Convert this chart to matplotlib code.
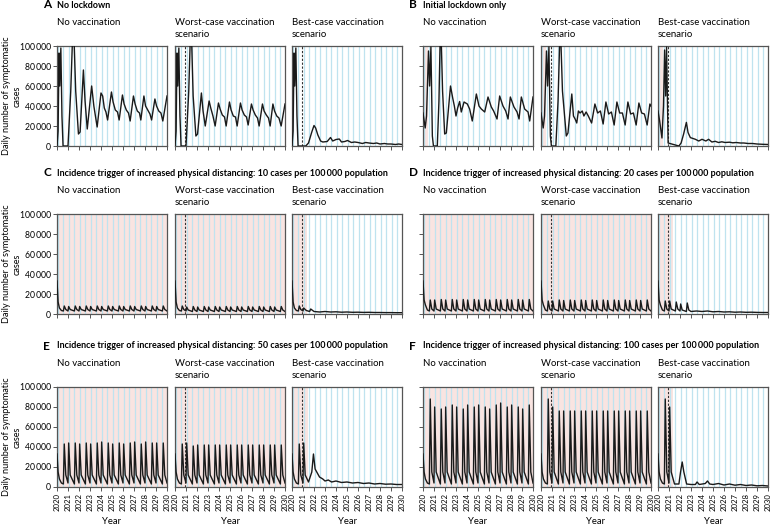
import matplotlib.pyplot as plt

plt.rcParams['font.family'] = ['Lato', 'DejaVu Sans']

# ---------------- data ----------------
years = list(range(2020, 2031))
y_ticks = [0, 20000, 40000, 60000, 80000, 100000]
y_tick_labels = ['0', '20\u2009000', '40\u2009000', '60\u2009000', '80\u2009000', '100\u2009000']
holiday_lines = [2020.05, 2020.58, 2021.05, 2021.58, 2022.05, 2022.58, 2023.05, 2023.58, 2024.05, 2024.58,
                 2025.05, 2025.58, 2026.05, 2026.58, 2027.05, 2027.58, 2028.05, 2028.58, 2029.05, 2029.58]
vaccine_start = 2020.92

# A: no lockdown
a_none_t = [2020.0, 2020.1, 2020.18, 2020.25, 2020.35, 2020.45, 2020.55, 2021.0, 2021.25, 2021.48, 2021.7,
            2021.95, 2022.1, 2022.4, 2022.55, 2022.75, 2023.15, 2023.35, 2023.65, 2024.0, 2024.15, 2024.3,
            2024.45, 2024.6, 2024.95, 2025.1, 2025.3, 2025.5, 2025.65, 2025.95, 2026.1, 2026.3, 2026.5,
            2026.65, 2026.95, 2027.1, 2027.3, 2027.5, 2027.62, 2027.9, 2028.05, 2028.25, 2028.45, 2028.6,
            2028.9, 2029.05, 2029.25, 2029.45, 2029.62, 2030.0]
a_none_v = [0, 15000, 93000, 60000, 98000, 30000, 0, 0, 55000, 130000, 55000, 12000, 14000, 76000, 45000,
            17000, 60000, 40000, 19000, 53000, 50000, 38000, 34000, 26000, 54000, 44000, 36000, 34000, 26000,
            51000, 42000, 36000, 33000, 25000, 50000, 42000, 35000, 33000, 26000, 50000, 40000, 36000, 32000,
            26000, 47000, 40000, 35000, 33000, 25000, 50000]
a_worst_t = [2020.0, 2020.1, 2020.18, 2020.25, 2020.35, 2020.45, 2020.55, 2021.0, 2021.25, 2021.45, 2021.65,
             2021.9, 2022.05, 2022.4, 2022.55, 2022.75, 2023.1, 2023.25, 2023.45, 2023.65, 2023.95, 2024.1,
             2024.3, 2024.5, 2024.65, 2024.95, 2025.1, 2025.3, 2025.5, 2025.65, 2025.95, 2026.1, 2026.3,
             2026.5, 2026.65, 2026.95, 2027.1, 2027.3, 2027.5, 2027.65, 2027.95, 2028.1, 2028.3, 2028.5,
             2028.65, 2028.9, 2029.05, 2029.25, 2029.45, 2029.65, 2030.0]
a_worst_v = [0, 15000, 93000, 60000, 98000, 30000, 0, 0, 55000, 130000, 50000, 10000, 12000, 53000, 35000,
             20000, 45000, 38000, 30000, 20000, 43000, 37000, 31000, 29000, 20000, 44000, 36000, 30000, 29000,
             20000, 43000, 36000, 31000, 29000, 21000, 42000, 36000, 31000, 28000, 20000, 42000, 35000, 31000,
             28000, 20000, 42000, 35000, 30000, 28000, 20000, 42000]
a_best_t = [2020.0, 2020.1, 2020.18, 2020.25, 2020.35, 2020.45, 2020.55, 2021.25, 2021.5, 2021.8, 2022.0,
            2022.15, 2022.35, 2022.6, 2022.8, 2023.2, 2023.5, 2023.7, 2024.0, 2024.3, 2024.5, 2024.8, 2025.05,
            2025.4, 2025.7, 2026.0, 2026.4, 2026.7, 2027.0, 2027.4, 2027.7, 2028.0, 2028.4, 2028.7, 2029.0,
            2029.4, 2029.7, 2030.0]
a_best_v = [0, 15000, 93000, 60000, 98000, 30000, 0, 0, 3000, 14000, 20500, 18000, 11000, 5000, 4000, 4500,
            8500, 5000, 6500, 7000, 4000, 4500, 5500, 3500, 4000, 3500, 2500, 3500, 3000, 2500, 3000, 2000,
            2500, 2000, 2000, 1500, 2000, 1500]

# B: initial lockdown only
b_none_t = [2020.0, 2020.2, 2020.32, 2020.5, 2020.6, 2020.72, 2020.85, 2020.95, 2021.3, 2021.45, 2021.6,
            2021.78, 2021.97, 2022.12, 2022.5, 2022.7, 2022.85, 2023.0, 2023.15, 2023.33, 2023.48, 2023.73,
            2024.03, 2024.24, 2024.48, 2024.85, 2025.09, 2025.3, 2025.61, 2025.91, 2026.21, 2026.42, 2026.73,
            2026.97, 2027.27, 2027.52, 2027.73, 2027.94, 2028.27, 2028.55, 2028.73, 2028.94, 2029.24, 2029.55,
            2029.7, 2030.0]
b_none_v = [33000, 18000, 30000, 95000, 60000, 99000, 10000, 0, 0, 45000, 130000, 55000, 12000, 13000, 60000,
            48000, 40000, 30000, 38000, 44500, 34000, 44000, 42000, 37000, 25000, 52000, 40000, 37000, 34000,
            49000, 39000, 35000, 27000, 50000, 40000, 35000, 27000, 49000, 39000, 34000, 27000, 49000, 37000,
            34000, 25000, 49000]
b_worst_t = [2020.0, 2020.2, 2020.32, 2020.5, 2020.6, 2020.72, 2020.85, 2020.95, 2021.35, 2021.55, 2021.75,
             2021.95, 2022.3, 2022.45, 2022.8, 2022.95, 2023.1, 2023.25, 2023.4, 2023.55, 2023.75, 2023.9,
             2024.1, 2024.3, 2024.6, 2024.9, 2025.15, 2025.4, 2025.65, 2025.9, 2026.15, 2026.4, 2026.65,
             2026.9, 2027.15, 2027.4, 2027.65, 2027.9, 2028.15, 2028.4, 2028.65, 2028.9, 2029.15, 2029.4,
             2029.65, 2029.9, 2030.0]
b_worst_v = [33000, 18000, 30000, 95000, 60000, 99000, 10000, 0, 0, 45000, 125000, 55000, 10000, 13000, 52000,
             30000, 27000, 23000, 35000, 33000, 35000, 30000, 34000, 30000, 23000, 42000, 33000, 35000, 22000,
             44000, 32000, 34000, 21000, 44000, 33000, 33000, 21000, 44000, 32000, 33000, 21000, 43000, 33000,
             32000, 21000, 42000, 40000]
b_best_t = [2020.0, 2020.15, 2020.36, 2020.5, 2020.6, 2020.7, 2020.78, 2020.92, 2021.9, 2022.1, 2022.33,
            2022.58, 2022.73, 2022.94, 2023.4, 2023.7, 2024.0, 2024.35, 2024.6, 2024.9, 2025.2, 2025.5, 2025.8,
            2026.1, 2026.5, 2026.8, 2027.1, 2027.5, 2027.8, 2028.2, 2028.6, 2029.0, 2029.5, 2030.0]
b_best_v = [35000, 25000, 8000, 40000, 96000, 50000, 99000, 3000, 0, 3000, 12000, 23600, 13500, 8400, 6700,
            5000, 6700, 5000, 6700, 4000, 4700, 3500, 4200, 3500, 3800, 3200, 3500, 3000, 3000, 2500, 2500,
            2000, 1700, 1500]

# C/D/E/F share the timing of the distancing cycles (no vaccination & worst case)
cyc_t = [2020.0, 2020.1, 2020.22, 2020.4, 2020.58, 2020.66, 2020.8, 2021.0, 2021.06, 2021.2, 2021.58,
         2021.66, 2021.8, 2022.0, 2022.06, 2022.2, 2022.58, 2022.66, 2022.8, 2023.0, 2023.06, 2023.2,
         2023.58, 2023.66, 2023.8, 2024.0, 2024.06, 2024.2, 2024.58, 2024.66, 2024.8, 2025.0, 2025.06,
         2025.2, 2025.58, 2025.66, 2025.8, 2026.0, 2026.06, 2026.2, 2026.58, 2026.66, 2026.8, 2027.0,
         2027.06, 2027.2, 2027.58, 2027.66, 2027.8, 2028.0, 2028.06, 2028.2, 2028.58, 2028.66, 2028.8,
         2029.0, 2029.06, 2029.2, 2029.58, 2029.66, 2029.8, 2030.0]
c_none_v = [33000, 12000, 6000, 3500, 3000, 8000, 4500, 3000, 7500, 4500, 3000, 8000, 4500, 3000, 7500, 4500,
            3000, 8000, 4500, 3000, 7500, 4500, 3000, 8000, 4500, 3000, 7500, 4500, 3000, 8000, 4500, 3000,
            7500, 4500, 3000, 8000, 4500, 3000, 7500, 4500, 3000, 8000, 4500, 3000, 7500, 4500, 3000, 8000,
            4500, 3000, 7500, 4500, 3000, 8000, 4500, 3000, 7500, 4500, 3000, 8000, 4500, 3000]
c_worst_v = [33000, 12000, 6000, 3500, 3000, 8000, 4500, 3000, 7000, 4000, 2500, 7500, 4000, 2500, 7000, 4000,
             2500, 7500, 4000, 2500, 7000, 4000, 2500, 7500, 4000, 2500, 7000, 4000, 2500, 7500, 4000, 2500,
             7000, 4000, 2500, 7500, 4000, 2500, 7000, 4000, 2500, 7500, 4000, 2500, 7000, 4000, 2500, 7500,
             4000, 2500, 7000, 4000, 2500, 7500, 4000, 2500, 7000, 4000, 2500, 7500, 4000, 2500]
d_none_v = [33000, 14000, 9000, 4000, 3000, 14000, 5000, 3000, 14000, 5000, 3000, 14500, 5000, 3000, 14000,
            5000, 3000, 14500, 5000, 3000, 14000, 5000, 3000, 14500, 5000, 3000, 14000, 5000, 3000, 14500, 5000,
            3000, 14000, 5000, 3000, 14500, 5000, 3000, 14000, 5000, 3000, 14500, 5000, 3000, 14000, 5000, 3000,
            14500, 5000, 3000, 14000, 5000, 3000, 14500, 5000, 3000, 14000, 5000, 3000, 14500, 5000, 3000]
d_worst_v = [33000, 14000, 9000, 4000, 3000, 13000, 5000, 3000, 13000, 5000, 3000, 14000, 5000, 3000, 13500,
             5000, 3000, 14000, 5000, 3000, 13500, 5000, 3000, 14000, 5000, 3000, 13500, 5000, 3000, 14000, 5000,
             3000, 13500, 5000, 3000, 14000, 5000, 3000, 13500, 5000, 3000, 14000, 5000, 3000, 13500, 5000, 3000,
             14000, 5000, 3000, 13500, 5000, 3000, 14000, 5000, 3000, 13500, 5000, 3000, 14000, 5000, 3000]
e_none_v = [33000, 15000, 8000, 4000, 3000, 43000, 12000, 4000, 44000, 12000, 3000, 44000, 12000, 4000, 43000,
            12000, 3000, 44000, 12000, 4000, 43000, 12000, 3000, 44000, 12000, 4000, 45000, 12000, 3000, 44000,
            12000, 4000, 43000, 12000, 3000, 44000, 12000, 4000, 43000, 12000, 3000, 44000, 12000, 4000, 45000,
            12000, 3000, 43000, 12000, 4000, 45000, 12000, 3000, 44000, 12000, 4000, 44000, 12000, 3000, 44000,
            12000, 4000]
e_worst_v = [33000, 15000, 8000, 4000, 3000, 43000, 12000, 4000, 44000, 12000, 3000, 41000, 12000, 4000, 42000,
             12000, 3000, 42000, 12000, 4000, 42000, 12000, 3000, 42000, 12000, 4000, 42000, 12000, 3000, 42000,
             12000, 4000, 42000, 12000, 3000, 42000, 12000, 4000, 42000, 12000, 3000, 42000, 12000, 4000, 42000,
             12000, 3000, 42000, 12000, 4000, 42000, 12000, 3000, 42000, 12000, 4000, 42000, 12000, 3000, 42000,
             12000, 4000]
f_none_v = [33000, 15000, 8000, 4000, 3000, 88000, 15000, 4000, 80000, 15000, 3000, 78000, 15000, 4000, 80000,
            15000, 3000, 82000, 15000, 4000, 80000, 15000, 3000, 78000, 15000, 4000, 82000, 15000, 3000, 80000,
            15000, 4000, 82000, 15000, 3000, 80000, 15000, 4000, 78000, 15000, 3000, 82000, 15000, 4000, 84000,
            15000, 3000, 80000, 15000, 4000, 82000, 15000, 3000, 80000, 15000, 4000, 78000, 15000, 3000, 82000,
            15000, 4000]
f_worst_v = [33000, 15000, 8000, 4000, 3000, 88000, 15000, 4000, 80000, 15000, 3000, 76000, 15000, 4000, 76000,
             15000, 3000, 76000, 15000, 4000, 76000, 15000, 3000, 76000, 15000, 4000, 76000, 15000, 3000, 76000,
             15000, 4000, 76000, 15000, 3000, 76000, 15000, 4000, 76000, 15000, 3000, 76000, 15000, 4000, 76000,
             15000, 3000, 76000, 15000, 4000, 76000, 15000, 3000, 76000, 15000, 4000, 76000, 15000, 3000, 76000,
             15000, 4000]

c_best_t = [2020.0, 2020.1, 2020.22, 2020.4, 2020.58, 2020.66, 2020.8, 2021.0, 2021.06, 2021.3, 2021.6, 2021.7,
            2022.0, 2022.5, 2023.0, 2023.5, 2024.0, 2024.5, 2025.0, 2025.5, 2026.0, 2026.5, 2027.0, 2027.5,
            2028.0, 2028.5, 2029.0, 2029.5, 2030.0]
c_best_v = [33000, 12000, 6000, 3500, 3000, 8000, 4500, 3000, 6000, 3500, 2500, 5000, 2500, 2000, 2500, 2000,
            2200, 1800, 2000, 1700, 1800, 1600, 1700, 1500, 1500, 1400, 1400, 1300, 1300]
d_best_t = [2020.0, 2020.1, 2020.22, 2020.4, 2020.58, 2020.66, 2020.8, 2021.0, 2021.06, 2021.2, 2021.58,
            2021.66, 2021.8, 2022.0, 2022.06, 2022.2, 2022.58, 2022.66, 2022.8, 2023.0, 2023.5, 2024.0, 2024.5,
            2025.0, 2025.5, 2026.0, 2026.5, 2027.0, 2027.5, 2028.0, 2028.5, 2029.0, 2029.5, 2030.0]
d_best_v = [33000, 14000, 9000, 4000, 3000, 13000, 5000, 3000, 13000, 5000, 3000, 12000, 5000, 3000, 10000, 4000,
            2500, 11000, 4000, 2500, 3000, 2500, 3000, 2200, 2500, 2000, 2200, 1800, 2000, 1700, 1800, 1600,
            1500, 1500]
e_best_t = [2020.0, 2020.1, 2020.22, 2020.4, 2020.58, 2020.66, 2020.8, 2021.0, 2021.06, 2021.2, 2021.5,
            2021.8, 2021.95, 2022.1, 2022.3, 2022.5, 2022.8, 2023.0, 2023.3, 2023.6, 2024.0, 2024.5, 2025.0,
            2025.5, 2026.0, 2026.5, 2027.0, 2027.5, 2028.0, 2028.5, 2029.0, 2029.5, 2030.0]
e_best_v = [33000, 15000, 8000, 4000, 3000, 43000, 12000, 4000, 44000, 12000, 5000, 15000, 33000, 18000, 14000,
            10000, 8000, 6000, 7000, 5000, 6000, 4500, 5000, 4000, 4500, 3500, 4000, 3000, 3500, 2800, 3000,
            2500, 2500]
f_best_t = [2020.0, 2020.1, 2020.22, 2020.4, 2020.58, 2020.66, 2020.8, 2021.0, 2021.06, 2021.2, 2021.5,
            2021.9, 2022.05, 2022.2, 2022.35, 2022.6, 2023.0, 2023.4, 2023.55, 2023.75, 2024.3, 2024.5, 2024.7,
            2025.0, 2025.5, 2026.0, 2026.5, 2027.0, 2027.5, 2028.0, 2028.5, 2029.0, 2029.5, 2030.0]
f_best_v = [33000, 15000, 8000, 4000, 3000, 88000, 15000, 4000, 80000, 15000, 3000, 3000, 15000, 25000, 15000,
            3000, 2500, 2500, 5000, 2500, 3500, 6000, 3000, 2500, 3500, 2000, 3000, 1800, 2500, 1500, 2000,
            1200, 1500, 1000]

# distancing (pink) periods per subplot: (start, end)
pink_spans = {
    'A': [[], [], []],
    'B': [[(2020.0, 2020.45)], [(2020.0, 2020.45)], [(2020.0, 2020.45)]],
    'C': [[(2020.0, 2030.0)], [(2020.0, 2030.0)], [(2020.0, 2021.4)]],
    'D': [[(2020.0, 2030.0)], [(2020.0, 2030.0)], [(2020.0, 2021.4)]],
    'E': [[(2020.0, 2030.0)], [(2020.0, 2030.0)], [(2020.0, 2021.45)]],
    'F': [[(2020.0, 2030.0)], [(2020.0, 2030.0)], [(2020.0, 2021.35)]],
}

panels = [
    ('A', 'No lockdown', 57, 46,
     [(a_none_t, a_none_v), (a_worst_t, a_worst_v), (a_best_t, a_best_v)]),
    ('B', 'Initial lockdown only', 423, 46,
     [(b_none_t, b_none_v), (b_worst_t, b_worst_v), (b_best_t, b_best_v)]),
    ('C', 'Incidence trigger of increased physical distancing: 10 cases per 100\u2009000 population', 57, 214,
     [(cyc_t, c_none_v), (cyc_t, c_worst_v), (c_best_t, c_best_v)]),
    ('D', 'Incidence trigger of increased physical distancing: 20 cases per 100\u2009000 population', 423, 214,
     [(cyc_t, d_none_v), (cyc_t, d_worst_v), (d_best_t, d_best_v)]),
    ('E', 'Incidence trigger of increased physical distancing: 50 cases per 100\u2009000 population', 57, 387,
     [(cyc_t, e_none_v), (cyc_t, e_worst_v), (e_best_t, e_best_v)]),
    ('F', 'Incidence trigger of increased physical distancing: 100 cases per 100\u2009000 population', 423, 387,
     [(cyc_t, f_none_v), (cyc_t, f_worst_v), (f_best_t, f_best_v)]),
]
scenarios = ['No vaccination', 'Worst-case vaccination\nscenario', 'Best-case vaccination\nscenario']

# ---------------- figure ----------------
W, H = 773, 526
fig = plt.figure(figsize=(W / 100, H / 100), dpi=100)
pink = '#f9e4e1'
blue = '#bfe3ef'
spine_col = '#555555'
AX_W, AX_H, GAP = 110, 100, 118

for letter, title, x0, y0, series in panels:
    fig.text((x0 - 14) / W, 1 - (y0 - 41) / H, letter, fontsize=8.5, fontweight='bold', va='center', ha='left')
    fig.text(x0 / W, 1 - (y0 - 41) / H, title, fontsize=6.45, fontweight='bold', va='center', ha='left')
    if x0 == 57:
        fig.text(12 / W, 1 - (y0 + AX_H / 2) / H, 'Daily number of symptomatic\ncases', fontsize=6.6,
                 rotation=90, ha='center', va='center', multialignment='center', linespacing=1.2)
    for i, (t, v) in enumerate(series):
        left = x0 + i * GAP - (1 if i == 2 else 0)
        ax = fig.add_axes([left / W, 1 - (y0 + AX_H) / H, AX_W / W, AX_H / H])
        for s, e in pink_spans[letter][i]:
            ax.axvspan(s, e, color=pink, lw=0, zorder=0)
        for h in holiday_lines:
            ax.axvline(h, color=blue, lw=0.9, zorder=1)
        if i > 0:
            ax.axvline(vaccine_start, color='#333333', lw=0.8, ls=(0, (2, 1.5)), zorder=2)
        ax.plot(t, v, color='#1a1a1a', lw=1.0, zorder=3)
        ax.set_xlim(2020, 2030)
        ax.set_ylim(0, 100000)
        for sp in ax.spines.values():
            sp.set_color(spine_col)
            sp.set_linewidth(0.9)
        ax.set_xticks(years)
        ax.tick_params(axis='both', length=3, width=0.7, color=spine_col, labelsize=6, pad=1.5)
        if y0 == 387:
            ax.set_xticklabels([str(y) for y in years], rotation=90, fontsize=5.6)
            fig.text((left + AX_W / 2) / W, 1 - 521 / H, 'Year', fontsize=6.8, ha='center', va='center')
        else:
            ax.set_xticklabels([])
        if i == 0:
            ax.set_yticks(y_ticks)
            if x0 == 57:
                ax.set_yticklabels(y_tick_labels, fontsize=6.2)
            else:
                ax.set_yticklabels([])
        else:
            ax.set_yticks([])
        ax.text(0, 1.0 + 28 / AX_H, scenarios[i], transform=ax.transAxes,
                fontsize=6.9, va='top', ha='left', linespacing=1.45)

fig.savefig('out.png', dpi=100)
